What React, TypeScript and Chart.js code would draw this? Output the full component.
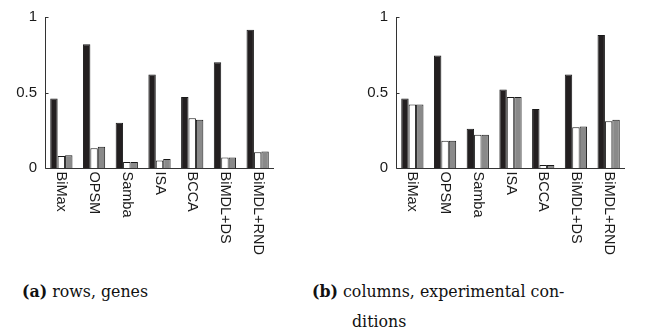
import React, { useEffect, useRef } from "react";
import { Chart, registerables } from "chart.js";

Chart.register(...registerables);

const categories = ["BiMax", "OPSM", "Samba", "ISA", "BCCA", "BiMDL+DS", "BiMDL+RND"];
const rowsBlack = [0.46, 0.82, 0.3, 0.62, 0.47, 0.7, 0.915];
const rowsWhite = [0.08, 0.13, 0.04, 0.05, 0.33, 0.07, 0.105];
const rowsGray = [0.085, 0.14, 0.04, 0.06, 0.32, 0.07, 0.11];
const colsBlack = [0.46, 0.745, 0.26, 0.52, 0.39, 0.62, 0.88];
const colsWhite = [0.42, 0.18, 0.22, 0.47, 0.02, 0.27, 0.31];
const colsGray = [0.42, 0.18, 0.22, 0.47, 0.02, 0.275, 0.32];
const yTicks = [0, 0.5, 1];

const FONT = "Arial, 'Liberation Sans', Helvetica, sans-serif";

const labelPlugin = {
  id: "vertLabels",
  afterDraw(chart: any) {
    const { ctx, scales } = chart;
    const x = scales.x;
    const y = scales.y;
    ctx.save();
    ctx.strokeStyle = "#333";
    ctx.lineWidth = 1;
    ctx.beginPath();
    const y0 = Math.round(y.getPixelForValue(0)) + 0.5;
    const xl = Math.round(x.left) + 0.5;
    ctx.moveTo(xl, Math.round(y.getPixelForValue(1)));
    ctx.lineTo(xl, y0);
    ctx.lineTo(x.right, y0);
    yTicks.forEach((v) => {
      const py = Math.round(y.getPixelForValue(v)) + 0.5;
      ctx.moveTo(xl, py);
      ctx.lineTo(xl + 3, py);
    });
    ctx.stroke();
    ctx.fillStyle = "#1a1a1a";
    ctx.font = "14.5px " + FONT;
    ctx.textAlign = "left";
    ctx.textBaseline = "middle";
    categories.forEach((c, i) => {
      const px = x.getPixelForValue(i);
      ctx.save();
      ctx.translate(px, y0 + 3);
      ctx.rotate(Math.PI / 2);
      ctx.fillText(c, 0, 0);
      ctx.restore();
    });
    ctx.restore();
  },
};

function BarChart({ black, white, gray }: { black: number[]; white: number[]; gray: number[] }) {
  const ref = useRef<HTMLCanvasElement>(null);
  useEffect(() => {
    if (!ref.current) return;
    const ds = (data: number[], bg: string) => ({
      data,
      backgroundColor: bg,
      borderColor: "#1a1a1a",
      borderWidth: 1,
      borderSkipped: "bottom" as const,
      barPercentage: 1.0,
      categoryPercentage: 0.68,
    });
    const chart = new Chart(ref.current, {
      type: "bar",
      data: {
        labels: categories,
        datasets: [ds(black, "#231f20"), ds(white, "#ffffff"), ds(gray, "#8a8a8a")],
      },
      plugins: [labelPlugin],
      options: {
        responsive: false,
        animation: false,
        layout: { padding: { top: 15, right: 26, left: 0, bottom: 0 } },
        plugins: { legend: { display: false }, tooltip: { enabled: false } },
        scales: {
          x: {
            grid: { display: false, drawTicks: false },
            border: { display: false },
            ticks: { display: false },
            afterFit: (s: any) => {
              s.height = 92;
            },
          },
          y: {
            min: 0,
            max: 1,
            afterBuildTicks: (s: any) => {
              s.ticks = yTicks.map((v) => ({ value: v }));
            },
            grid: { display: false, drawTicks: false },
            border: { display: false },
            ticks: {
              color: "#1a1a1a",
              font: { family: FONT, size: 15 },
              padding: 8,
              callback: (v: any) => String(v),
            },
            afterFit: (s: any) => {
              s.width = 45;
            },
          },
        },
      },
    });
    return () => {
      chart.destroy();
    };
  }, [black, white, gray]);
  return <canvas ref={ref} width={300} height={260} style={{ display: "block" }} />;
}

const captionStyle: React.CSSProperties = {
  position: "absolute",
  fontFamily: "'DejaVu Serif', serif",
  fontSize: 15.8,
  color: "#111",
  lineHeight: "30px",
  margin: 0,
  whiteSpace: "nowrap",
};

export default function App() {
  return (
    <div style={{ position: "absolute", left: 0, top: 0, width: 646, height: 330, background: "#fff" }}>
      <div style={{ position: "absolute", left: 0, top: 0 }}>
        <BarChart black={rowsBlack} white={rowsWhite} gray={rowsGray} />
      </div>
      <div style={{ position: "absolute", left: 351, top: 0 }}>
        <BarChart black={colsBlack} white={colsWhite} gray={colsGray} />
      </div>
      <div style={{ ...captionStyle, left: 22, top: 277 }}>
        <b>(a)</b> rows, genes
      </div>
      <div style={{ ...captionStyle, left: 312, top: 277 }}>
        <b>(b)</b> columns, experimental con-
        <br />
        <span style={{ paddingLeft: 40 }}>ditions</span>
      </div>
    </div>
  );
}
